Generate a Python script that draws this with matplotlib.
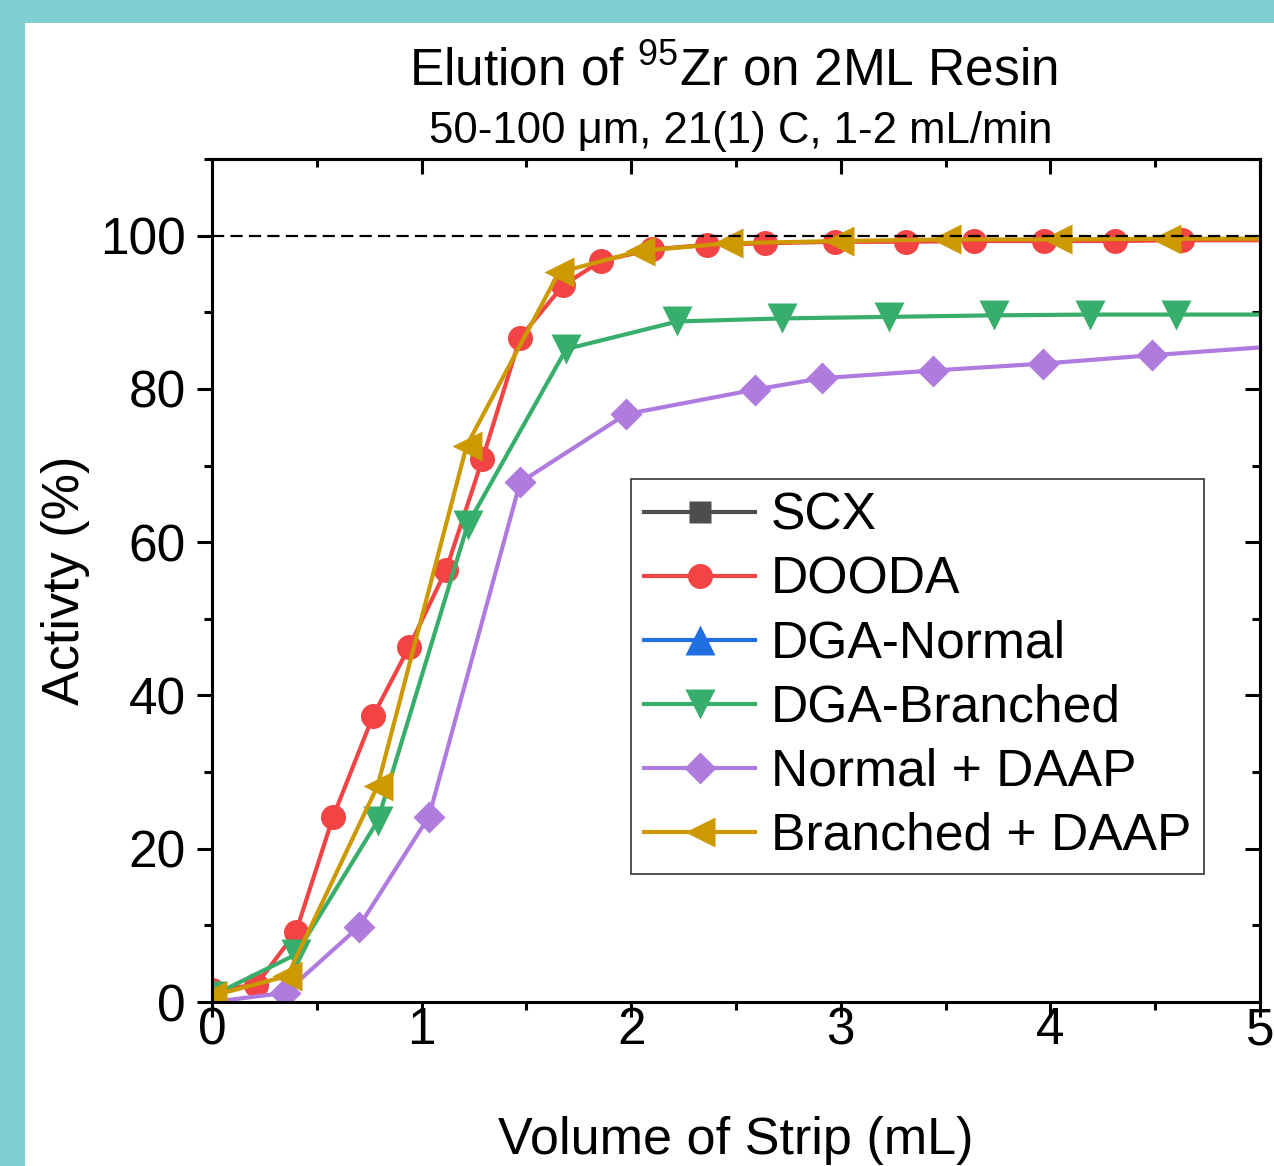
import matplotlib
matplotlib.use("Agg")
import matplotlib.pyplot as plt
from matplotlib.patches import Rectangle
from matplotlib.ticker import MultipleLocator

# Strip volume (mL) vs. eluted activity (%) per resin
scx_x = []
scx_y = []

dooda_x = [0.0, 0.21, 0.40, 0.577, 0.768, 0.94, 1.117, 1.29, 1.47, 1.675, 1.856,
           2.10, 2.36, 2.64, 2.97, 3.31, 3.635, 3.97, 4.31, 4.63, 5.3]
dooda_y = [1.6, 2.2, 9.1, 24.1, 37.3, 46.3, 56.4, 70.8, 86.7, 93.5, 96.7,
           98.2, 98.8, 99.0, 99.2, 99.2, 99.3, 99.3, 99.3, 99.4, 99.4]

dga_normal_x = []
dga_normal_y = []

dga_branched_x = [0.0, 0.40, 0.79, 1.22, 1.69, 2.22, 2.72, 3.23, 3.73, 4.19, 4.60, 5.3]
dga_branched_y = [0.8, 6.2, 23.6, 62.3, 85.2, 88.8, 89.2, 89.4, 89.6, 89.7, 89.7, 89.7]

normal_daap_x = [0.0, 0.35, 0.70, 1.035, 1.47, 1.975, 2.59, 2.91, 3.44, 3.965, 4.485, 5.2]
normal_daap_y = [0.0, 1.2, 9.8, 24.2, 67.8, 76.7, 79.9, 81.4, 82.4, 83.3, 84.4, 85.8]

branched_daap_x = [0.0, 0.36, 0.79, 1.215, 1.655, 2.04, 2.46, 2.99, 3.50, 4.03, 4.55, 5.3]
branched_daap_y = [0.8, 3.4, 28.2, 72.6, 95.2, 98.0, 99.0, 99.3, 99.5, 99.5, 99.6, 99.6]

plt.rcParams["font.family"] = "Liberation Sans"
plt.rcParams["mathtext.fontset"] = "custom"
plt.rcParams["mathtext.rm"] = "Liberation Sans"

W, H = 1274, 1166
fig = plt.figure(figsize=(W / 100, H / 100), dpi=100)
fig.patch.set_facecolor("#80CFD0")
fig.add_artist(Rectangle((25 / W, 0), 1, 1 - 23 / H, transform=fig.transFigure,
                         facecolor="white", edgecolor="none", zorder=-1))

ax = fig.add_axes([212 / W, 1 - 1002 / H, 1048 / W, 843 / H])

series = [
    (scx_x, scx_y, "SCX", "#4D4D4D", "s", 16),
    (dooda_x, dooda_y, "DOODA", "#F24444", "o", 18),
    (dga_normal_x, dga_normal_y, "DGA-Normal", "#1F6FE0", "^", 21),
    (dga_branched_x, dga_branched_y, "DGA-Branched", "#38AE6C", "v", 21),
    (normal_daap_x, normal_daap_y, "Normal + DAAP", "#B07BDE", "D", 16),
    (branched_daap_x, branched_daap_y, "Branched + DAAP", "#CC9900", "<", 21),
]
for x, y, name, col, mk, ms in series:
    ax.plot(x, y, color=col, lw=3, marker=mk, ms=ms, mec="none", label=name)

ax.axhline(100, color="black", lw=1.6, dashes=(5.5, 2.8), zorder=5)

ax.set_xlim(0, 5)
ax.set_ylim(0, 110)
ax.xaxis.set_major_locator(MultipleLocator(1))
ax.xaxis.set_minor_locator(MultipleLocator(0.5))
ax.yaxis.set_minor_locator(MultipleLocator(10))
ax.set_yticks([0, 20, 40, 60, 80, 100])
ax.tick_params(which="both", direction="out", width=2.2, labelsize=37)
ax.tick_params(which="major", length=11)
ax.tick_params(which="minor", length=6)
ax.tick_params(axis="x", pad=-8)
ax.tick_params(axis="y", pad=8)
for sp in ax.spines.values():
    sp.set_linewidth(2.2)

# inward mirror ticks on top and right
top = ax.secondary_xaxis("top")
top.xaxis.set_major_locator(MultipleLocator(1))
top.xaxis.set_minor_locator(MultipleLocator(0.5))
top.tick_params(which="both", direction="in", width=2.2, labeltop=False)
top.tick_params(which="major", length=11)
top.tick_params(which="minor", length=6)
right = ax.secondary_yaxis("right")
right.yaxis.set_major_locator(MultipleLocator(20))
right.yaxis.set_minor_locator(MultipleLocator(10))
right.tick_params(which="both", direction="in", width=2.2, labelright=False)
right.tick_params(which="major", length=11)
right.tick_params(which="minor", length=6)
for s in (top, right):
    for sp in s.spines.values():
        sp.set_linewidth(2.2)

ax.set_xlabel("Volume of Strip (mL)", fontsize=37.5, labelpad=44)
ax.set_ylabel("Activty (%)", fontsize=37.5, labelpad=7)

fig.text(733 / W, 1 - 72 / H, r"Elution of $\mathregular{^{95}}$Zr on 2ML Resin",
         fontsize=37, ha="center", va="center")
fig.text(741 / W, 1 - 131 / H, "50-100 \u03bcm, 21(1) C, 1-2 mL/min",
         fontsize=31.5, ha="center", va="center")

leg = ax.legend(loc="upper left", bbox_to_anchor=(0.400, 0.6204), borderaxespad=0,
                fontsize=37.2, handlelength=2.15, handletextpad=0.3, labelspacing=0.29,
                borderpad=0.25, fancybox=False, framealpha=1, edgecolor="#333333")
leg.get_frame().set_linewidth(1.2)
leg.set_zorder(10)

fig.savefig("out.png", dpi=100, facecolor=fig.get_facecolor())
